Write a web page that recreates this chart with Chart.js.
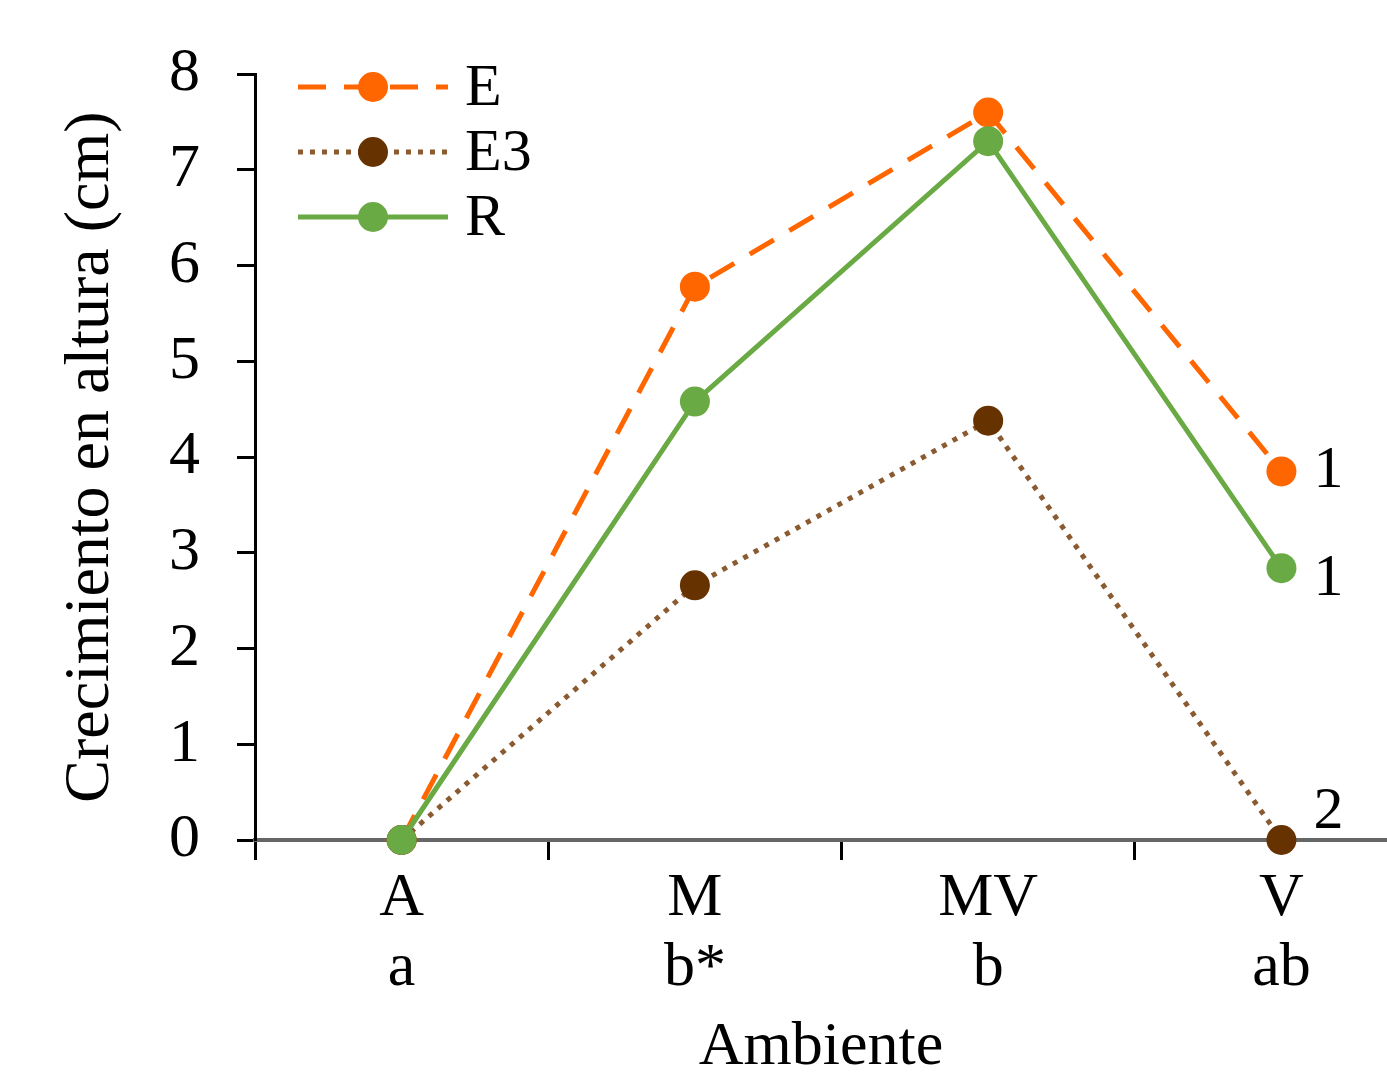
<!DOCTYPE html>
<html>
<head>
<meta charset="utf-8">
<script src="https://cdn.jsdelivr.net/npm/chart.js@4.4.1/dist/chart.umd.min.js"></script>
<style>
html, body { margin: 0; padding: 0; background: #fff; overflow: hidden; }
canvas { display: block; }
</style>
</head>
<body>
<canvas id="chart1" width="1387" height="1088"></canvas>
<script>
"use strict";

// data
var ambientes = ['A', 'M', 'MV', 'V'];
var letras = ['a', 'b*', 'b', 'ab'];
var serieE = [0, 5.78, 7.6, 3.85];
var serieE3 = [0, 2.66, 4.38, 0];
var serieR = [0, 4.58, 7.3, 2.84];
var etiquetasV = ['1', '2', '1'];   // E, E3, R at "V"

var serif = "'Liberation Serif', 'Times New Roman', serif";
Chart.defaults.font.family = serif;
Chart.defaults.color = '#000';

function puntos(vals) {
	return vals.map(function(v, i) { return { x: i, y: v }; });
}

// the original plot is cut off on the right, just past the last category
var xMax = 3.36;

// tick marks sit between categories, labels on the categories
var xTicks = [];
ambientes.forEach(function(c, i) { xTicks.push(i - 0.5); xTicks.push(i); });
xTicks.push(xMax);

// legend drawn inside the plot: line + marker + name
var leyenda = {
	id: 'leyenda',
	afterDraw: function(chart) {
		var ctx = chart.ctx;
		var x0 = chart.chartArea.left + 43;
		var rows = [87, 152, 217];
		chart.data.datasets.forEach(function(ds, i) {
			var y = rows[i];
			ctx.save();
			ctx.strokeStyle = ds.borderColor;
			ctx.lineWidth = ds.borderWidth;
			ctx.setLineDash(ds.borderDash || []);
			ctx.beginPath();
			ctx.moveTo(x0, y);
			ctx.lineTo(x0 + 150, y);
			ctx.stroke();
			ctx.setLineDash([]);
			ctx.fillStyle = ds.pointBackgroundColor;
			ctx.beginPath();
			ctx.arc(x0 + 75, y, 15, 0, Math.PI * 2);
			ctx.fill();
			ctx.fillStyle = '#000';
			ctx.font = '60px ' + serif;
			ctx.textBaseline = 'middle';
			ctx.fillText(ds.label, x0 + 167, y + 2);
			ctx.restore();
		});
	}
};

// the small "1 / 2" marks to the right of the last points
var marcasV = {
	id: 'marcasV',
	afterDatasetsDraw: function(chart) {
		var ctx = chart.ctx;
		var dy = [0, -28, 11];
		ctx.save();
		ctx.font = '60px ' + serif;
		ctx.fillStyle = '#000';
		ctx.textAlign = 'center';
		ctx.textBaseline = 'middle';
		chart.data.datasets.forEach(function(ds, i) {
			var meta = chart.getDatasetMeta(i);
			var p = meta.data[meta.data.length - 1];
			ctx.fillText(etiquetasV[i], p.x + 47, p.y + dy[i]);
		});
		ctx.restore();
	}
};

var ctx = document.getElementById('chart1').getContext('2d');
var myChart = new Chart(ctx, {
	type: 'line',
	data: {
		datasets: [{
			label: 'E',
			data: puntos(serieE),
			borderColor: '#ff6600',
			borderWidth: 5,
			borderDash: [28, 18],
			pointBackgroundColor: '#ff6600',
			pointBorderWidth: 0,
			pointRadius: 15,
			order: 3
		}, {
			label: 'E3',
			data: puntos(serieE3),
			borderColor: '#8a5a30',
			borderWidth: 5,
			borderDash: [5, 7],
			pointBackgroundColor: '#663300',
			pointBorderWidth: 0,
			pointRadius: 15,
			order: 2
		}, {
			label: 'R',
			data: puntos(serieR),
			borderColor: '#6aaa45',
			borderWidth: 5,
			pointBackgroundColor: '#6aaa45',
			pointBorderWidth: 0,
			pointRadius: 15,
			order: 1
		}]
	},
	options: {
		responsive: false,
		animation: false,
		layout: { autoPadding: false, padding: { left: 53, top: 73, right: 0, bottom: 3 } },
		datasets: { line: { clip: false, tension: 0 } },
		plugins: {
			legend: { display: false },
			tooltip: { enabled: false }
		},
		scales: {
			x: {
				type: 'linear',
				min: -0.5,
				max: xMax,
				afterBuildTicks: function(s) {
					s.ticks = xTicks.map(function(v) { return { value: v }; });
				},
				ticks: {
					autoSkip: false,
					maxRotation: 0,
					padding: 4,
					font: { size: 62, lineHeight: 1.13 },
					callback: function(v) {
						return Number.isInteger(v) ? [ambientes[v], letras[v]] : '';
					}
				},
				grid: {
					drawOnChartArea: false,
					tickLength: 20,
					tickWidth: 3,
					tickColor: function(c) {
						if (!c.tick) return '#000';
						var v = c.tick.value;
						return (Number.isInteger(v) || v === xMax) ? 'rgba(0,0,0,0)' : '#000';
					}
				},
				border: { color: '#666', width: 4 },
				title: { display: true, text: 'Ambiente', font: { size: 62 }, padding: 0 },
				afterFit: function(s) {
					s.height = 1088 - 840 - 3;
					s.paddingLeft = 0;
					s.paddingRight = 0;
				}
			},
			y: {
				min: 0,
				max: 8,
				ticks: { stepSize: 1, padding: 37, font: { size: 62 } },
				grid: { drawOnChartArea: false, tickLength: 18, tickWidth: 3, tickColor: '#000' },
				border: { color: '#000', width: 3 },
				title: { display: true, text: 'Crecimiento en altura (cm)', font: { size: 64 }, padding: 0 },
				afterFit: function(s) { s.width = 202; }
			}
		}
	},
	plugins: [leyenda, marcasV]
});
</script>
</body>
</html>
